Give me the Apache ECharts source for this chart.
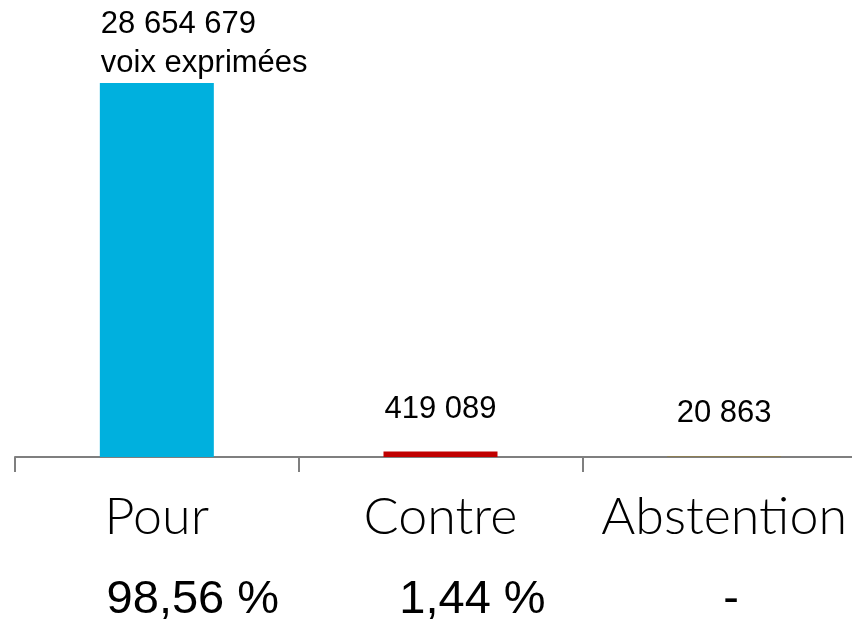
<!DOCTYPE html>
<html>
<head>
<meta charset="utf-8">
<script src="https://cdn.jsdelivr.net/npm/echarts@6/dist/echarts.min.js"></script>
<style>
  html, body { margin: 0; padding: 0; background: #fff; }
  #chart { width: 852px; height: 620px; }
</style>
</head>
<body>
<div id="chart"></div>
<script>
// données du vote
const categories = ["Pour", "Contre", "Abstention"];
const votes = [28654679, 419089, 20863];
const voteLabels = ["28 654 679\nvoix exprimées", "419 089", "20 863"];
const percents = ["98,56 %", "1,44 %", "-"];
const barColors = ["#00B0DE", "#C00000", "#8C7E55"];

const chart = echarts.init(document.getElementById("chart"));

// décalage horizontal des pourcentages sous chaque catégorie
const pctShift = [72, 64, 14];
const pctFont = "Liberation Sans, Arial, sans-serif";

chart.setOption({
  animation: false,
  grid: { left: 15, right: -14, top: 83, bottom: 163, outerBoundsMode: "none" },
  xAxis: [
    {
      type: "category",
      data: categories,
      axisLine: { lineStyle: { color: "#7f7f7f", width: 2 } },
      axisTick: { show: true, interval: 0, length: 15, lineStyle: { color: "#7f7f7f", width: 2 } },
      axisLabel: {
        interval: 0,
        hideOverlap: false,
        margin: 34,
        fontFamily: "Lato, 'Open Sans', sans-serif",
        fontWeight: 300,
        fontSize: 52,
        color: "#000",
      },
    },
    {
      type: "category",
      position: "bottom",
      data: percents,
      axisLine: { show: false },
      axisTick: { show: false },
      axisLabel: {
        interval: 0,
        hideOverlap: false,
        margin: 120,
        fontFamily: pctFont,
        fontSize: 47,
        color: "#000",
        formatter: (v, i) => "{p" + i + "|" + v + "}",
        rich: {
          p0: { padding: [0, 0, 0, pctShift[0]], fontSize: 47, fontFamily: pctFont },
          p1: { padding: [0, 0, 0, pctShift[1]], fontSize: 47, fontFamily: pctFont },
          p2: { padding: [0, 0, 0, pctShift[2]], fontSize: 47, fontFamily: pctFont },
        },
      },
    },
  ],
  yAxis: { type: "value", show: false, min: 0, max: "dataMax" },
  series: [
    {
      type: "bar",
      barWidth: 114,
      barMinHeight: 1,
      data: votes.map((v, i) => ({
        value: v,
        itemStyle: { color: barColors[i] },
        label: i === 0
          ? { position: [1, 0], align: "left", verticalAlign: "bottom", lineHeight: 39 }
          : { position: "top", distance: 27 },
      })),
      label: {
        show: true,
        color: "#000",
        fontSize: 31,
        fontFamily: "Liberation Sans, Arial, sans-serif",
        formatter: (p) => voteLabels[p.dataIndex],
      },
    },
  ],
});
</script>
</body>
</html>
